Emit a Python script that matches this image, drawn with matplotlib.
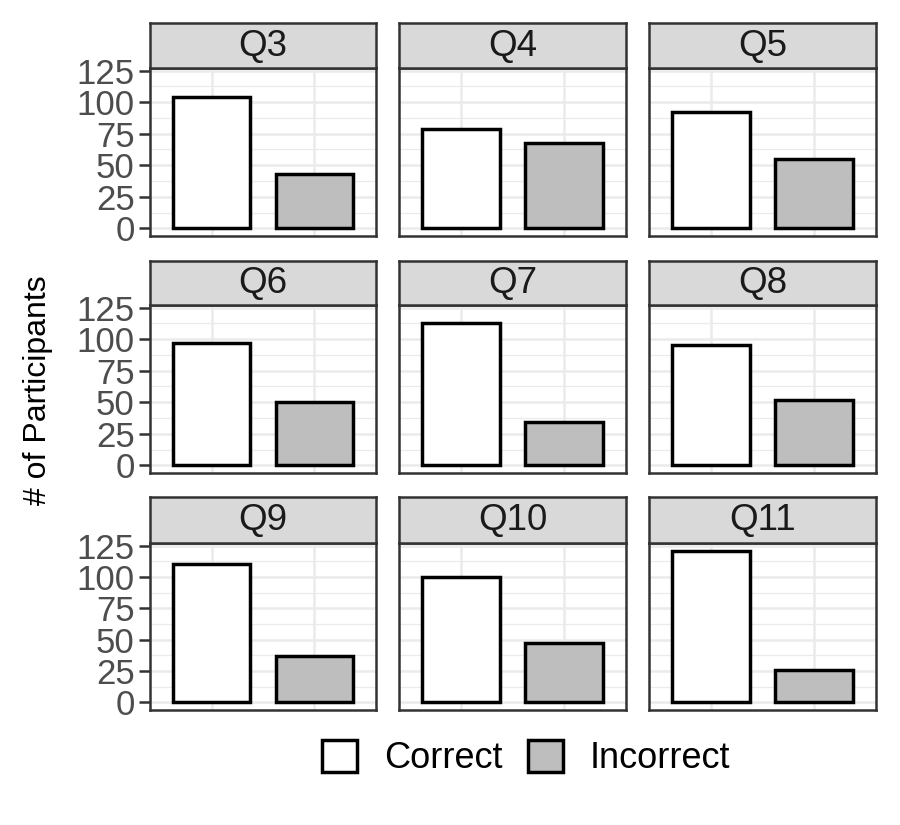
import matplotlib
matplotlib.use("Agg")
import matplotlib.pyplot as plt
from matplotlib.patches import Patch

plt.rcParams['font.family'] = ['Liberation Sans', 'DejaVu Sans']

# ---- data ----
questions = ["Q3", "Q4", "Q5", "Q6", "Q7", "Q8", "Q9", "Q10", "Q11"]
correct = [104, 79, 92, 97, 113, 95, 110, 100, 121]
incorrect = [43, 68, 55, 50, 34, 52, 37, 47, 26]
answers = ["Correct", "Incorrect"]
yticks = [0, 25, 50, 75, 100, 125]
yminor = [12.5, 37.5, 62.5, 87.5, 112.5]

# ---- layout (pixels) ----
W, H = 900, 825
fig = plt.figure(figsize=(9, 8.25), dpi=100)
col_x = [(150, 376), (399, 626), (649, 876)]
rows = [(23, 68, 236), (261, 305, 473), (497, 543, 710)]


def fx(px):
    return px / W


def fy(py):
    return 1 - py / H


fills = {"Correct": "white", "Incorrect": "#BEBEBE"}
frame_col = "#333333"
ymax = max(max(correct), max(incorrect))
ylim = (-0.05 * ymax, 1.05 * ymax)

for i, q in enumerate(questions):
    r, c = divmod(i, 3)
    x0, x1 = col_x[c]
    st, sb, pb = rows[r]
    ax = fig.add_axes([fx(x0), fy(pb), (x1 - x0) / W, (pb - sb) / H])
    ax.set_facecolor("white")
    ax.bar([1, 2], [correct[i], incorrect[i]], width=0.75,
           color=[fills[a] for a in answers], edgecolor="black",
           linewidth=2.5, zorder=3)
    ax.set_xlim(0.4, 2.6)
    ax.set_ylim(ylim)
    ax.set_yticks(yticks)
    ax.set_yticks(yminor, minor=True)
    ax.set_xticks([1, 2])
    ax.set_axisbelow(True)
    ax.grid(True, which="major", color="#EBEBEB", linewidth=1.8)
    ax.grid(True, which="minor", axis="y", color="#EBEBEB", linewidth=0.9)
    ax.tick_params(axis="x", length=0, labelbottom=False)
    ax.tick_params(axis="y", which="minor", length=0)
    if c == 0:
        ax.tick_params(axis="y", which="major", length=8, width=1.8,
                       color=frame_col, labelsize=25, labelcolor="#4D4D4D",
                       pad=3)
    else:
        ax.tick_params(axis="y", which="major", length=0, labelleft=False)
    for s in ax.spines.values():
        s.set_color(frame_col)
        s.set_linewidth(1.8)
        s.set_zorder(5)

    sax = fig.add_axes([fx(x0), fy(sb), (x1 - x0) / W, (sb - st) / H])
    sax.set_facecolor("#D9D9D9")
    sax.set_xticks([])
    sax.set_yticks([])
    for s in sax.spines.values():
        s.set_color(frame_col)
        s.set_linewidth(1.8)
    sax.text(0.5, 0.48, q, ha="center", va="center", fontsize=26.5,
             color="#1A1A1A", transform=sax.transAxes)

fig.text(fx(38), fy(390), "# of Participants", rotation=90,
         ha="center", va="center", fontsize=23, color="black")

handles = [Patch(facecolor=fills[a], edgecolor="black", linewidth=2.5, label=a)
           for a in answers]
fig.legend(handles=handles, loc="center", bbox_to_anchor=(fx(526), fy(758)),
           ncol=2, frameon=False, fontsize=26, handlelength=0.97,
           handleheight=0.97, handletextpad=0.75, columnspacing=0.7)

fig.savefig("out.png", dpi=100)
